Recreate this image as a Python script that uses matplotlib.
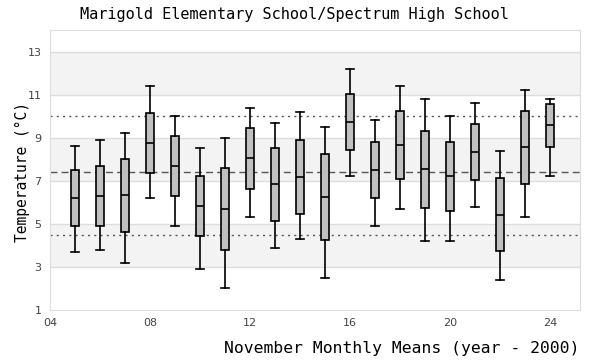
import matplotlib
matplotlib.use("Agg")
import matplotlib.pyplot as plt

# --- data (year - 2000) ---
years = [5, 6, 7, 8, 9, 10, 11, 12, 13, 14, 15, 16, 17, 18, 19, 20, 21, 22, 23, 24]
whisk_hi = [8.61, 8.90, 9.21, 11.40, 10.02, 8.53, 8.98, 10.38, 9.68, 10.21,
            9.51, 12.21, 9.83, 11.40, 10.81, 10.02, 10.62, 8.39, 11.23, 10.81]
q3 = [7.49, 7.69, 8.02, 10.16, 9.07, 7.23, 7.60, 9.46, 8.53, 8.90,
      8.25, 11.04, 8.81, 10.25, 9.32, 8.81, 9.65, 7.13, 10.25, 10.58]
median = [6.20, 6.29, 6.34, 8.76, 7.69, 5.83, 5.69, 8.06, 6.85, 7.18,
          6.25, 9.74, 7.50, 8.67, 7.55, 7.23, 8.34, 5.41, 8.58, 9.60]
q1 = [4.88, 4.88, 4.62, 7.35, 6.29, 4.43, 3.78, 6.60, 5.13, 5.46,
      4.25, 8.44, 6.20, 7.07, 5.74, 5.60, 7.04, 3.73, 6.85, 8.58]
whisk_lo = [3.69, 3.78, 3.17, 6.19, 4.88, 2.89, 2.01, 5.32, 3.87, 4.29,
            2.48, 7.23, 4.90, 5.69, 4.20, 4.20, 5.78, 2.38, 5.32, 7.23]

overall_mean = 7.42
band_lo = 4.48
band_hi = 10.03

yticks = [1, 3, 5, 7, 9, 11, 13]
xticks = [4, 8, 12, 16, 20, 24]
xticklabels = ["04", "08", "12", "16", "20", "24"]

mono = "DejaVu Sans Mono"

fig = plt.figure(figsize=(6, 3.6), dpi=100)
ax = fig.add_axes([50 / 600, 1 - 310 / 360, 530 / 600, 280 / 360])

# alternating background bands
for lo in [3, 7, 11]:
    ax.axhspan(lo, lo + 2, color="#f3f3f3", zorder=0, lw=0)
for y in yticks[1:]:
    ax.axhline(y, color="#dddddd", lw=1, zorder=1)

ax.axhline(overall_mean, color="#555555", lw=1, ls=(0, (5, 3)), zorder=2)
ax.axhline(band_lo, color="#555555", lw=1, ls=(0, (1.5, 3)), zorder=2)
ax.axhline(band_hi, color="#555555", lw=1, ls=(0, (1.5, 3)), zorder=2)

stats = []
for i in range(len(years)):
    stats.append({"whislo": whisk_lo[i], "q1": q1[i], "med": median[i],
                  "q3": q3[i], "whishi": whisk_hi[i], "fliers": []})

ax.bxp(stats, positions=years, widths=0.32, patch_artist=True,
       showfliers=False, manage_ticks=False,
       boxprops=dict(facecolor="#c0c0c0", edgecolor="black", lw=1.2),
       medianprops=dict(color="black", lw=1.2),
       whiskerprops=dict(color="black", lw=1.2),
       capprops=dict(color="black", lw=1.2),
       capwidths=0.34, zorder=3)

ax.set_xlim(4, 25.2)
ax.set_ylim(1, 14)
ax.set_yticks(yticks)
ax.set_xticks(xticks)
ax.set_xticklabels(xticklabels)
ax.tick_params(length=0, labelsize=8, labelcolor="#444444", pad=6)
for s in ax.spines.values():
    s.set_color("#dddddd")

ax.set_xlabel("November Monthly Means (year - 2000)", family=mono,
              fontsize=11.8, loc="right", labelpad=9)
fig.text(22 / 600, 1 - 172 / 360, "Temperature (°C)", family=mono,
         fontsize=10.5, rotation=90, ha="center", va="center")
fig.text(294 / 600, 1 - 14 / 360, "Marigold Elementary School/Spectrum High School",
         family=mono, fontsize=11, ha="center", va="center")

fig.savefig("out.png", dpi=100)
